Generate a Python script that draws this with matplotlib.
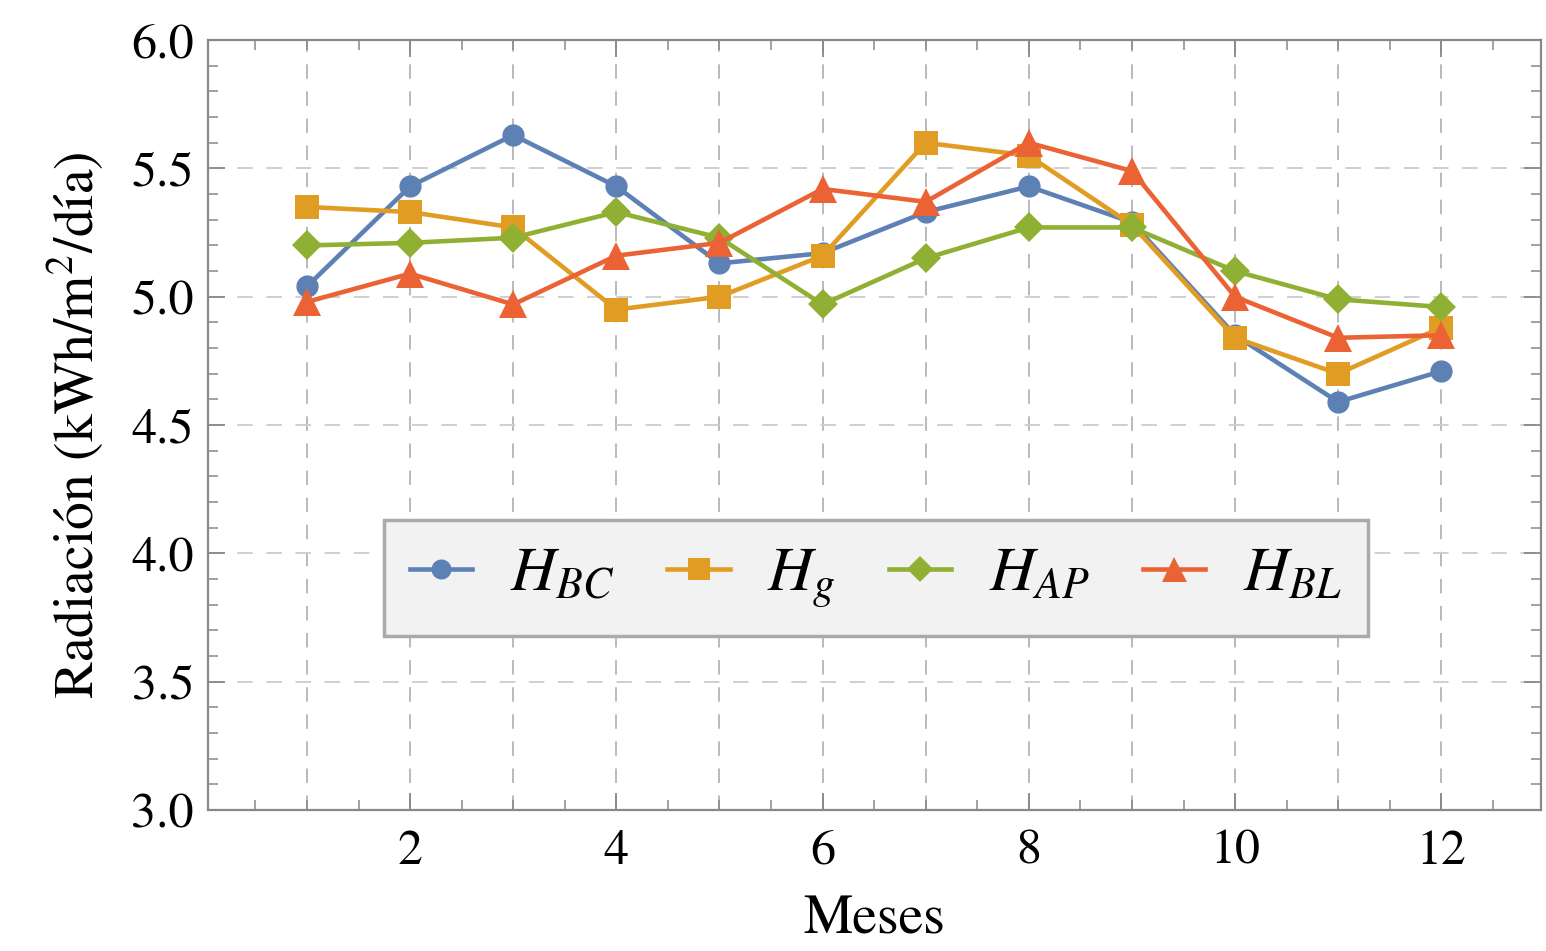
import matplotlib
matplotlib.use("Agg")
import matplotlib.pyplot as plt
from matplotlib.ticker import MultipleLocator, FormatStrFormatter

plt.rcParams['font.family'] = ['STIXGeneral', 'DejaVu Serif']
plt.rcParams['mathtext.fontset'] = 'stix'

meses = [1, 2, 3, 4, 5, 6, 7, 8, 9, 10, 11, 12]
h_bc = [5.04, 5.43, 5.63, 5.43, 5.13, 5.17, 5.33, 5.43, 5.29, 4.85, 4.59, 4.71]
h_g = [5.35, 5.33, 5.27, 4.95, 5.00, 5.16, 5.60, 5.55, 5.28, 4.84, 4.70, 4.88]
h_ap = [5.20, 5.21, 5.23, 5.33, 5.23, 4.97, 5.15, 5.27, 5.27, 5.10, 4.99, 4.96]
h_bl = [4.98, 5.09, 4.97, 5.16, 5.21, 5.42, 5.37, 5.60, 5.49, 5.00, 4.84, 4.85]

series = [
    (h_bc, r'$H_{BC}$', '#5E81B5', 'o', 16),
    (h_g, r'$H_g$', '#E19C24', 's', 17),
    (h_ap, r'$H_{AP}$', '#8FB032', 'D', 15),
    (h_bl, r'$H_{BL}$', '#EB6235', '^', 20),
]

fig = plt.figure(figsize=(15.46, 9.51), dpi=100)
ax = fig.add_axes([0.1345, 0.1483, 0.8625, 0.8095])

for vals, lab, col, mk, ms in series:
    ax.plot(meses, vals, color=col, lw=3.3, marker=mk, ms=ms, label=lab,
            markeredgewidth=0)

ax.set_xlim(0.04, 12.97)
ax.set_ylim(3.0, 6.0)
ax.xaxis.set_major_locator(MultipleLocator(2))
ax.xaxis.set_minor_locator(MultipleLocator(0.5))
ax.yaxis.set_major_locator(MultipleLocator(0.5))
ax.yaxis.set_minor_locator(MultipleLocator(0.1))
ax.yaxis.set_major_formatter(FormatStrFormatter('%.1f'))

# grid: vertical at each month, horizontal at major y
for m in meses:
    ax.axvline(m, color='#b4b4b4', lw=1.3, ls=(0, (8, 7)), zorder=0)
for yv in [3.5, 4.0, 4.5, 5.0, 5.5]:
    ax.axhline(yv, color='#cfcfcf', lw=1.4, ls=(0, (8, 7)), zorder=0)

for s in ax.spines.values():
    s.set_color('#888888')
    s.set_linewidth(1.6)

ax.tick_params(which='both', direction='in', top=True, right=True,
               color='#888888', labelsize=36, pad=10)
ax.tick_params(which='major', length=12, width=1.3)
ax.tick_params(which='minor', length=7, width=1.1)
ax.tick_params(axis='x', pad=14)

ax.set_xlabel('Meses', fontsize=40, labelpad=14)
ax.set_ylabel('Radiación (kWh/m$^2$/día)', fontsize=40, labelpad=18)

leg = ax.legend(loc='center', bbox_to_anchor=(0.5008, 0.301), ncol=4,
                fontsize=45, frameon=True, fancybox=False,
                handlelength=1.0, handletextpad=0.6, columnspacing=0.85,
                borderpad=0.42, markerscale=0.9)
leg.get_frame().set_facecolor('#f2f2f2')
leg.get_frame().set_edgecolor('#aaaaaa')
leg.get_frame().set_linewidth(2.5)
leg.get_frame().set_alpha(1)

fig.savefig('out.png', dpi=100)
